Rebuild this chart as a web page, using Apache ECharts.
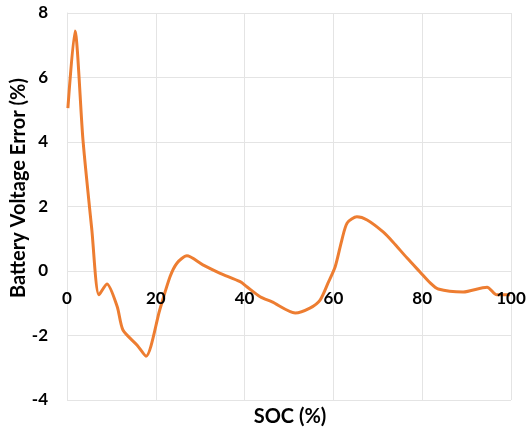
<!DOCTYPE html>
<html>
<head>
<meta charset="utf-8">
<script src="https://cdn.jsdelivr.net/npm/echarts@6/dist/echarts.min.js"></script>
<style>
  html, body { margin: 0; padding: 0; background: #fff; }
  #chart { width: 528px; height: 434px; }
</style>
</head>
<body>
<div id="chart"></div>
<script>
// State of charge (%) sample positions
const soc = [0.2, 1.8, 3.6, 5.6, 7.2, 9.0, 11.3, 12.6, 15.8, 17.8, 20.9, 23.2, 24.8, 27.0,
  30.6, 34.5, 39.0, 40.5, 43.5, 46.2, 51.4, 54.7, 57.0, 58.8, 60.4, 61.9, 63.1, 65.3,
  67.6, 71.2, 73.4, 76.6, 79.5, 81.8, 83.6, 89.2, 94.6, 96.8, 99.8];
// Battery voltage error (%) at each SOC sample
const voltageError = [5.05, 7.44, 4.06, 1.27, -0.74, -0.4, -1.1, -1.83, -2.3, -2.64, -1.2, -0.18, 0.25, 0.47,
  0.19, -0.07, -0.33, -0.49, -0.8, -0.96, -1.3, -1.15, -0.9, -0.37, 0.13, 0.96, 1.49, 1.68,
  1.58, 1.21, 0.9, 0.4, -0.03, -0.37, -0.56, -0.65, -0.5, -0.74, -0.74];
const yTicks = [-4, -2, 0, 2, 4, 6, 8];
const xTicks = [0, 20, 40, 60, 80, 100];
const xTitle = 'SOC (%)';
const yTitle = 'Battery Voltage Error (%)';

const chart = echarts.init(document.getElementById('chart'));
const font = 'Lato, "Open Sans", sans-serif';
const gridColor = '#e4e4e4';
const xRange = { type: 'value', min: xTicks[0], max: xTicks[xTicks.length - 1], interval: 20 };
chart.setOption({
  animation: false,
  grid: { left: 67, right: 17, top: 13, bottom: 34, containLabel: false, outerBoundsMode: 'none' },
  graphic: [
    {
      type: 'text', x: 290, y: 417,
      style: { text: xTitle, fill: '#000', font: 'bold 20px ' + font, textAlign: 'center', textVerticalAlign: 'middle' }
    },
    {
      type: 'text', x: 19, y: 188, rotation: Math.PI / 2,
      style: { text: yTitle, fill: '#000', font: 'bold 20px ' + font, textAlign: 'center', textVerticalAlign: 'middle' }
    }
  ],
  xAxis: [
    // tick labels, drawn above the curve
    Object.assign({}, xRange, {
      z: 5,
      axisLine: { show: false, onZero: false },
      axisTick: { show: false },
      axisLabel: { color: '#000', fontWeight: 'bold', fontSize: 17, fontFamily: font, margin: 19 },
      splitLine: { show: false }
    }),
    // vertical grid lines, drawn below the curve
    Object.assign({}, xRange, {
      z: 0, position: 'bottom',
      axisLine: { show: false, onZero: false },
      axisTick: { show: false },
      axisLabel: { show: false },
      splitLine: { show: true, lineStyle: { color: gridColor, width: 1 } }
    })
  ],
  yAxis: {
    type: 'value', min: yTicks[0], max: yTicks[yTicks.length - 1], interval: 2,
    axisLine: { show: true, onZero: false, lineStyle: { color: gridColor } },
    axisTick: { show: false },
    axisLabel: { color: '#000', fontWeight: 'bold', fontSize: 17, fontFamily: font, margin: 19 },
    splitLine: { show: true, lineStyle: { color: gridColor, width: 1 } }
  },
  series: [{
    type: 'line',
    xAxisIndex: 0,
    z: 2,
    data: soc.map((x, i) => [x, voltageError[i]]),
    smooth: 0.25,
    showSymbol: false,
    lineStyle: { color: '#ED7D31', width: 3 },
    itemStyle: { color: '#ED7D31' }
  }]
});

// Put the SOC tick labels on the zero line of the error axis
const zeroY = chart.convertToPixel({ yAxisIndex: 0 }, 0);
const bottomY = chart.convertToPixel({ yAxisIndex: 0 }, yTicks[0]);
chart.setOption({ xAxis: [{ offset: zeroY - bottomY }, {}] });
</script>
</body>
</html>
